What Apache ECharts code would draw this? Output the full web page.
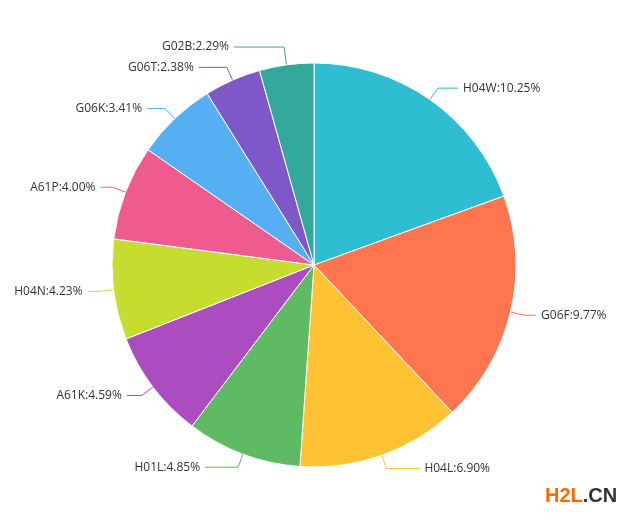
<!DOCTYPE html>
<html><head><meta charset="utf-8">
<script src="https://cdn.jsdelivr.net/npm/echarts@6/dist/echarts.min.js"></script>
<style>html,body{margin:0;padding:0;background:#fff}#c{width:633px;height:520px}</style>
</head><body><div id="c"></div>
<script>
var categories = ['H04W','G06F','H04L','H01L','A61K','H04N','A61P','G06K','G06T','G02B'];
var values = [10.25, 9.77, 6.90, 4.85, 4.59, 4.23, 4.00, 3.41, 2.38, 2.29];
var colors = ['#2EBDD1','#FF7550','#FFC233','#5FBB63','#AB4CC1','#C7DC31','#EF5A8F','#56AFF2','#7E57C9','#33A89C'];
var lineLen2 = [20, 12, 33, 33, 15, 12, 12, 18, 28, 50];
var lineLen1 = [14, 14, 14, 14, 14, 14, 14, 14, 14, 18];
var chart = echarts.init(document.getElementById('c'));
chart.setOption({
  backgroundColor: '#fff',
  color: colors,
  animation: false,
  series: [{
    type: 'pie',
    center: [314, 265],
    radius: 202,
    startAngle: 90,
    clockwise: true,
    avoidLabelOverlap: false,
    data: categories.map(function(n,i){return {name:n, value:values[i], labelLine:{length:lineLen1[i], length2:lineLen2[i]}};}),
    itemStyle: {borderColor:'#fff', borderWidth:1},
    label: {formatter: function(p){return p.name + ':' + p.value.toFixed(2) + '%';}, color:'#333', fontSize:12, fontFamily:'"Open Sans", sans-serif'},
    labelLine: {lineStyle:{width:1}}
  }],
  graphic: [{
    type:'text', left: 545, top: 486,
    style: {
      text: '{a|H2L}{b|.CN}',
      rich: {
        a: {fill:'#FF6A00', fontSize:20, fontWeight:'bold', fontFamily:'Arial, "Liberation Sans", sans-serif'},
        b: {fill:'#333', fontSize:20, fontWeight:'bold', fontFamily:'Arial, "Liberation Sans", sans-serif'}
      }
    }
  }]
});
</script></body></html>
